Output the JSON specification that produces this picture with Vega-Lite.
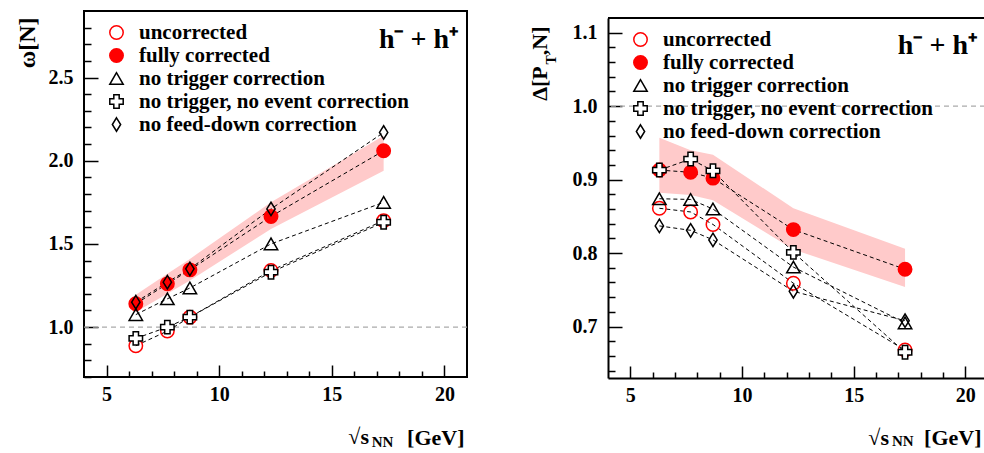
{
  "$schema": "https://vega.github.io/schema/vega-lite/v6.json",
  "background": "white",
  "padding": {"left": 14, "top": 10, "right": 0, "bottom": 0},
  "config": {
    "font": "Liberation Serif",
    "view": {"stroke": "black", "strokeWidth": 2},
    "axis": {
      "grid": false,
      "domain": false,
      "labelOverlap": false,
      "tickCount": 200,
      "tickColor": "black",
      "tickWidth": 1.5,
      "labelFont": "Liberation Serif",
      "labelFontWeight": "bold",
      "labelFontSize": 20,
      "labelColor": "black",
      "titleFont": "Liberation Serif",
      "titleColor": "black"
    },
    "legend": {
      "orient": "none",
      "legendX": 22,
      "legendY": 11,
      "padding": 0,
      "labelFont": "Liberation Serif",
      "labelFontWeight": "bold",
      "labelFontSize": 21,
      "labelColor": "black",
      "labelOffset": 12,
      "rowPadding": 1,
      "symbolSize": 180,
      "symbolStrokeWidth": 1.5,
      "labelLimit": 500
    }
  },
  "datasets": {
    "omega": [
      {"x": 6.3, "y": 0.888, "series": "uncorrected"},
      {"x": 7.7, "y": 0.976, "series": "uncorrected"},
      {"x": 8.7, "y": 1.06, "series": "uncorrected"},
      {"x": 12.3, "y": 1.34, "series": "uncorrected"},
      {"x": 17.3, "y": 1.64, "series": "uncorrected"},
      {"x": 6.3, "y": 1.14, "series": "fully corrected"},
      {"x": 7.7, "y": 1.26, "series": "fully corrected"},
      {"x": 8.7, "y": 1.344, "series": "fully corrected"},
      {"x": 12.3, "y": 1.665, "series": "fully corrected"},
      {"x": 17.3, "y": 2.06, "series": "fully corrected"},
      {"x": 6.3, "y": 1.075, "series": "no trigger correction"},
      {"x": 7.7, "y": 1.17, "series": "no trigger correction"},
      {"x": 8.7, "y": 1.235, "series": "no trigger correction"},
      {"x": 12.3, "y": 1.5, "series": "no trigger correction"},
      {"x": 17.3, "y": 1.75, "series": "no trigger correction"},
      {"x": 6.3, "y": 0.932, "series": "no trigger, no event correction"},
      {"x": 7.7, "y": 1.0, "series": "no trigger, no event correction"},
      {"x": 8.7, "y": 1.06, "series": "no trigger, no event correction"},
      {"x": 12.3, "y": 1.33, "series": "no trigger, no event correction"},
      {"x": 17.3, "y": 1.63, "series": "no trigger, no event correction"},
      {"x": 6.3, "y": 1.15, "series": "no feed-down correction"},
      {"x": 7.7, "y": 1.27, "series": "no feed-down correction"},
      {"x": 8.7, "y": 1.35, "series": "no feed-down correction"},
      {"x": 12.3, "y": 1.71, "series": "no feed-down correction"},
      {"x": 17.3, "y": 2.17, "series": "no feed-down correction"}
    ],
    "dpt": [
      {"x": 6.3, "y": 0.861, "series": "uncorrected"},
      {"x": 7.7, "y": 0.856, "series": "uncorrected"},
      {"x": 8.7, "y": 0.839, "series": "uncorrected"},
      {"x": 12.3, "y": 0.759, "series": "uncorrected"},
      {"x": 17.3, "y": 0.668, "series": "uncorrected"},
      {"x": 6.3, "y": 0.913, "series": "fully corrected"},
      {"x": 7.7, "y": 0.91, "series": "fully corrected"},
      {"x": 8.7, "y": 0.902, "series": "fully corrected"},
      {"x": 12.3, "y": 0.832, "series": "fully corrected"},
      {"x": 17.3, "y": 0.778, "series": "fully corrected"},
      {"x": 6.3, "y": 0.874, "series": "no trigger correction"},
      {"x": 7.7, "y": 0.873, "series": "no trigger correction"},
      {"x": 8.7, "y": 0.86, "series": "no trigger correction"},
      {"x": 12.3, "y": 0.781, "series": "no trigger correction"},
      {"x": 17.3, "y": 0.705, "series": "no trigger correction"},
      {"x": 6.3, "y": 0.913, "series": "no trigger, no event correction"},
      {"x": 7.7, "y": 0.928, "series": "no trigger, no event correction"},
      {"x": 8.7, "y": 0.912, "series": "no trigger, no event correction"},
      {"x": 12.3, "y": 0.801, "series": "no trigger, no event correction"},
      {"x": 17.3, "y": 0.665, "series": "no trigger, no event correction"},
      {"x": 6.3, "y": 0.837, "series": "no feed-down correction"},
      {"x": 7.7, "y": 0.831, "series": "no feed-down correction"},
      {"x": 8.7, "y": 0.818, "series": "no feed-down correction"},
      {"x": 12.3, "y": 0.748, "series": "no feed-down correction"},
      {"x": 17.3, "y": 0.708, "series": "no feed-down correction"}
    ],
    "bandL": [
      {"x": 6.3, "lo": 1.09, "hi": 1.195},
      {"x": 7.7, "lo": 1.2, "hi": 1.32},
      {"x": 8.7, "lo": 1.28, "hi": 1.41},
      {"x": 12.3, "lo": 1.59, "hi": 1.75},
      {"x": 17.3, "lo": 1.94, "hi": 2.15}
    ],
    "bandR": [
      {"x": 6.3, "lo": 0.882, "hi": 0.957},
      {"x": 7.7, "lo": 0.879, "hi": 0.94},
      {"x": 8.7, "lo": 0.872, "hi": 0.934},
      {"x": 12.3, "lo": 0.805, "hi": 0.861},
      {"x": 17.3, "lo": 0.754, "hi": 0.806}
    ],
    "one": [{}]
  },
  "bounds": "flush",
  "spacing": 141,
  "resolve": {
    "scale": {"shape": "independent", "fill": "independent", "stroke": "independent", "x": "independent", "y": "independent"},
    "legend": {"shape": "independent", "fill": "independent", "stroke": "independent"}
  },
  "hconcat": [
    {
      "width": 383,
      "height": 366,
      "layer": [
        {
          "data": {"name": "bandL"},
          "mark": {"type": "area", "color": "#ffcaca", "opacity": 1},
          "encoding": {
            "x": {
              "field": "x", "type": "quantitative",
              "scale": {"domain": [4, 21], "nice": false, "zero": false},
              "axis": {
                "values": [5, 6, 7, 8, 9, 10, 11, 12, 13, 14, 15, 16, 17, 18, 19, 20],
                "tickCount": 200,
                "labelOverlap": false,
                "labelFlush": false,
                "labelExpr": "datum.value % 5 === 0 ? format(datum.value,'d') : ''",
                "tickSize": {"condition": {"test": "datum.value % 5 === 0", "value": -12}, "value": -6},
                "labelPadding": 19,
                "title": "[GeV]",
                "titleFontSize": 22,
                "titleFontWeight": "bold",
                "titleAlign": "right",
                "titleBaseline": "middle",
                "titleX": 380,
                "titleY": 60
              }
            },
            "y": {
              "field": "lo", "type": "quantitative",
              "scale": {"domain": [0.7, 2.9], "nice": false, "zero": false},
              "axis": {
                "values": [0.7, 0.8, 0.9, 1.0, 1.1, 1.2, 1.3, 1.4, 1.5, 1.6, 1.7, 1.8, 1.9, 2.0, 2.1, 2.2, 2.3, 2.4, 2.5, 2.6, 2.7, 2.8],
                "tickCount": 200,
                "labelOverlap": false,
                "labelFlush": false,
                "labelExpr": "abs(datum.value*2-round(datum.value*2))<0.001 ? format(datum.value,'.1f') : ''",
                "tickSize": {"condition": {"test": "abs(datum.value*2-round(datum.value*2))<0.001", "value": -14}, "value": -7},
                "labelPadding": 25,
                "title": "ω[N]",
                "titleFontSize": 24,
                "titleFontWeight": "bold",
                "titleAngle": 270,
                "titleAlign": "right",
                "titleBaseline": "middle",
                "titleX": -57,
                "titleY": 6
              }
            },
            "y2": {"field": "hi"}
          }
        },
        {
          "data": {"name": "one"},
          "mark": {"type": "rule", "color": "#aaaaaa", "strokeDash": [5, 4], "strokeWidth": 1.2},
          "encoding": {"y": {"datum": 1.0}}
        },
        {
          "data": {"name": "omega"},
          "mark": {"type": "line", "color": "black", "strokeDash": [4, 3], "strokeWidth": 1},
          "encoding": {
            "x": {"field": "x", "type": "quantitative"},
            "y": {"field": "y", "type": "quantitative"},
            "detail": {"field": "series"}
          }
        },
        {
          "data": {"name": "omega"},
          "mark": {"type": "point", "size": 180, "strokeWidth": 1.5, "opacity": 1, "fillOpacity": 1},
          "encoding": {
            "x": {"field": "x", "type": "quantitative"},
            "y": {"field": "y", "type": "quantitative"},
            "shape": {
              "field": "series", "type": "nominal",
              "scale": {
                "domain": ["uncorrected", "fully corrected", "no trigger correction", "no trigger, no event correction", "no feed-down correction"],
                "range": ["circle", "circle", "triangle-up", "cross", "M0,-1L0.62,0L0,1L-0.62,0Z"]
              },
              "legend": {"title": null}
            },
            "fill": {
              "field": "series", "type": "nominal",
              "scale": {
                "domain": ["uncorrected", "fully corrected", "no trigger correction", "no trigger, no event correction", "no feed-down correction"],
                "range": ["transparent", "#ff0000", "transparent", "white", "transparent"]
              },
              "legend": {"title": null}
            },
            "stroke": {
              "field": "series", "type": "nominal",
              "scale": {
                "domain": ["uncorrected", "fully corrected", "no trigger correction", "no trigger, no event correction", "no feed-down correction"],
                "range": ["#ff0000", "#ff0000", "black", "black", "black"]
              },
              "legend": {"title": null}
            }
          }
        },
        {
          "data": {"name": "one"},
          "mark": {"type": "text", "text": "h⁻ + h⁺", "align": "right", "baseline": "alphabetic", "fontSize": 28, "fontWeight": "bold", "font": "Liberation Serif", "color": "black"},
          "encoding": {"x": {"datum": 20.6}, "y": {"datum": 2.68}}
        },
        {
          "data": {"name": "one"},
          "mark": {"type": "text", "text": "√s", "align": "right", "baseline": "middle", "fontSize": 22, "fontWeight": "bold", "font": "Liberation Serif", "color": "black"},
          "encoding": {"x": {"datum": 16.65}, "y": {"datum": 0.339}}
        },
        {
          "data": {"name": "one"},
          "mark": {"type": "text", "text": "NN", "align": "center", "baseline": "middle", "fontSize": 15, "fontWeight": "bold", "font": "Liberation Serif", "color": "black"},
          "encoding": {"x": {"datum": 17.25}, "y": {"datum": 0.31}}
        }
      ]
    },
    {
      "bounds": "flush",
      "spacing": 0,
      "resolve": {
        "scale": {"shape": "independent", "fill": "independent", "stroke": "independent", "x": "independent", "y": "independent"},
        "legend": {"shape": "independent", "fill": "independent", "stroke": "independent"}
      },
      "vconcat": [
        {
          "width": 377,
          "height": 7,
          "view": {"stroke": null},
          "data": {"values": []},
          "mark": "point"
        },
        {
          "width": 377,
          "height": 360,
          "view": {"stroke": null},
          "layer": [
            {
              "data": {"name": "bandR"},
              "mark": {"type": "area", "color": "#ffcaca", "opacity": 1},
              "encoding": {
                "x": {
                  "field": "x", "type": "quantitative",
                  "scale": {"domain": [4, 20.88], "nice": false, "zero": false},
                  "axis": {
                    "values": [5, 6, 7, 8, 9, 10, 11, 12, 13, 14, 15, 16, 17, 18, 19, 20],
                    "tickCount": 200,
                    "labelOverlap": false,
                    "labelFlush": false,
                    "labelExpr": "datum.value % 5 === 0 ? format(datum.value,'d') : ''",
                    "tickSize": {"condition": {"test": "datum.value % 5 === 0", "value": -12}, "value": -6},
                    "labelPadding": 19,
                    "domain": true,
                    "domainColor": "black",
                    "domainWidth": 2,
                    "title": "[GeV]",
                    "titleFontSize": 22,
                    "titleFontWeight": "bold",
                    "titleAlign": "right",
                    "titleBaseline": "middle",
                    "titleX": 373,
                    "titleY": 59
                  }
                },
                "y": {
                  "field": "lo", "type": "quantitative",
                  "scale": {"domain": [0.63, 1.12], "nice": false, "zero": false},
                  "axis": {
                    "values": [0.64, 0.66, 0.68, 0.7, 0.72, 0.74, 0.76, 0.78, 0.8, 0.82, 0.84, 0.86, 0.88, 0.9, 0.92, 0.94, 0.96, 0.98, 1.0, 1.02, 1.04, 1.06, 1.08, 1.1],
                    "tickCount": 200,
                    "labelOverlap": false,
                    "labelFlush": false,
                    "labelExpr": "abs(datum.value*10-round(datum.value*10))<0.001 ? format(datum.value,'.1f') : ''",
                    "tickSize": {"condition": {"test": "abs(datum.value*10-round(datum.value*10))<0.001", "value": -14}, "value": -7},
                    "labelPadding": 25,
                    "domain": true,
                    "domainColor": "black",
                    "domainWidth": 2,
                    "title": "Δ[P\u00a0\u00a0,N]",
                    "titleFontSize": 22,
                    "titleFontWeight": "bold",
                    "titleAngle": 270,
                    "titleAlign": "right",
                    "titleBaseline": "middle",
                    "titleX": -69,
                    "titleY": 8
                  }
                },
                "y2": {"field": "hi"}
              }
            },
            {
              "data": {"name": "one"},
              "mark": {"type": "rule", "color": "#aaaaaa", "strokeDash": [5, 4], "strokeWidth": 1.2},
              "encoding": {"y": {"datum": 1.0}}
            },
            {
              "data": {"name": "one"},
              "mark": {"type": "rule", "color": "black", "strokeWidth": 2},
              "encoding": {"y": {"datum": 1.12}, "x": {"datum": 4}, "x2": {"datum": 20.88}}
            },
            {
              "data": {"name": "dpt"},
              "mark": {"type": "line", "color": "black", "strokeDash": [4, 3], "strokeWidth": 1},
              "encoding": {
                "x": {"field": "x", "type": "quantitative"},
                "y": {"field": "y", "type": "quantitative"},
                "detail": {"field": "series"}
              }
            },
            {
              "data": {"name": "dpt"},
              "mark": {"type": "point", "size": 180, "strokeWidth": 1.5, "opacity": 1, "fillOpacity": 1},
              "encoding": {
                "x": {"field": "x", "type": "quantitative"},
                "y": {"field": "y", "type": "quantitative"},
                "shape": {
                  "field": "series", "type": "nominal",
                  "scale": {
                    "domain": ["uncorrected", "fully corrected", "no trigger correction", "no trigger, no event correction", "no feed-down correction"],
                    "range": ["circle", "circle", "triangle-up", "cross", "M0,-1L0.62,0L0,1L-0.62,0Z"]
                  },
                  "legend": {"title": null}
                },
                "fill": {
                  "field": "series", "type": "nominal",
                  "scale": {
                    "domain": ["uncorrected", "fully corrected", "no trigger correction", "no trigger, no event correction", "no feed-down correction"],
                    "range": ["transparent", "#ff0000", "transparent", "white", "transparent"]
                  },
                  "legend": {"title": null}
                },
                "stroke": {
                  "field": "series", "type": "nominal",
                  "scale": {
                    "domain": ["uncorrected", "fully corrected", "no trigger correction", "no trigger, no event correction", "no feed-down correction"],
                    "range": ["#ff0000", "#ff0000", "black", "black", "black"]
                  },
                  "legend": {"title": null}
                }
              }
            },
            {
              "data": {"name": "one"},
              "mark": {"type": "text", "text": "h⁻ + h⁺", "align": "right", "baseline": "alphabetic", "fontSize": 28, "fontWeight": "bold", "font": "Liberation Serif", "color": "black"},
              "encoding": {"x": {"datum": 20.52}, "y": {"datum": 1.071}}
            },
            {
              "data": {"name": "one"},
              "mark": {"type": "text", "text": "√s", "align": "right", "baseline": "middle", "fontSize": 22, "fontWeight": "bold", "font": "Liberation Serif", "color": "black"},
              "encoding": {"x": {"datum": 16.58}, "y": {"datum": 0.549}}
            },
            {
              "data": {"name": "one"},
              "mark": {"type": "text", "text": "NN", "align": "center", "baseline": "middle", "fontSize": 15, "fontWeight": "bold", "font": "Liberation Serif", "color": "black"},
              "encoding": {"x": {"datum": 17.2}, "y": {"datum": 0.544}}
            },
            {
              "data": {"name": "one"},
              "mark": {"type": "text", "text": "T", "align": "center", "baseline": "middle", "angle": 270, "fontSize": 14, "fontWeight": "bold", "font": "Liberation Serif", "color": "black"},
              "encoding": {"x": {"datum": 1.5}, "y": {"datum": 1.063}}
            }
          ]
        }
      ]
    }
  ]
}
